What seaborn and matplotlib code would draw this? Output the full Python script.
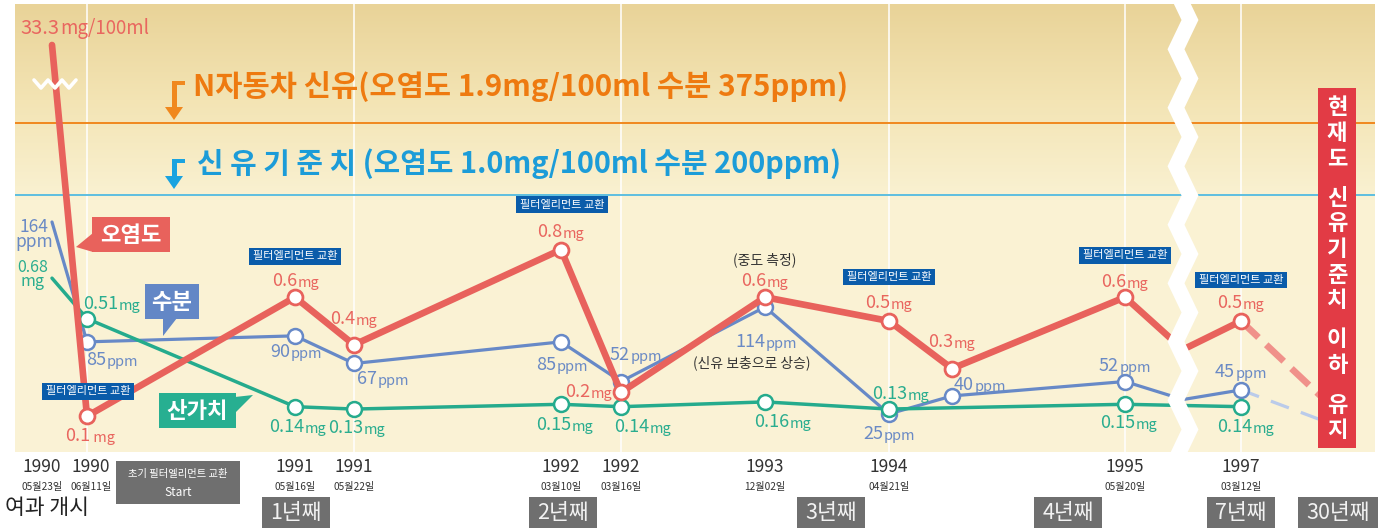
import numpy as np
import pandas as pd
import matplotlib
matplotlib.use("Agg")
import matplotlib.pyplot as plt
import matplotlib.transforms as mtrans
from matplotlib.patches import Rectangle, Polygon
import seaborn as sns

# ---------------- data ----------------
years = ["1990", "1990", "1991", "1991", "1992", "1992", "1993", "1994", "", "1995", "", "1997", ""]
days = ["05월23일", "06월11일", "05월16일", "05월22일", "03월10일", "03월16일", "12월02일", "04월21일", "",
        "05월20일", "", "03월12일", ""]
pollution = [33.3, 0.1, 0.6, 0.4, 0.8, 0.2, 0.6, 0.5, 0.3, 0.6, 0.38, 0.5, 0.12]      # 오염도 mg/100ml
water = [164, 85, 90, 67, 85, 52, 114, 25, 40, 52, 37, 45, 15]                          # 수분 ppm
acid = [0.68, 0.51, 0.14, 0.13, 0.15, 0.14, 0.16, 0.13, np.nan, 0.15, 0.145, 0.14, np.nan]  # 산가치 mg
marked = [0, 1, 1, 1, 1, 1, 1, 1, 1, 1, 0, 1, 0]
filter_change = [1, 2, 4, 7, 9, 11]
period_labels = ["1년째", "2년째", "3년째", "4년째", "7년째", "30년째"]
threshold_names = ["N자동차 신유", "신 유 기 준 치 "]
threshold_mg = [1.9, 1.0]
threshold_ppm = [375, 200]
side_note = "현재도 신유기준치 이하 유지"

# ---------------- layout ----------------
slot_x = [52, 87, 295, 354, 561, 621, 765, 889, 952, 1125, 1183, 1241, 1337]
period_x = [296, 563, 831, 1068, 1241, 1338]
grid_slots = [1, 3, 5, 7, 9, 11]

RED, RED_LIGHT = "#E8625C", "#F0918A"
BLUE, BLUE_LIGHT = "#6789C7", "#BACBEA"
GREEN = "#25AB8D"
RED_T, BLUE_T, GREEN_T = "#E9665F", "#6A8AC5", "#2AAD8F"
ORANGE_L, ORANGE_T = "#F0881E", "#EE7A10"
SKY_L, SKY_T = "#5DBEE0", "#1C9CD8"
NAVY, GRAY, BOXRED = "#0A5CAA", "#6F6F6F", "#E23B45"

sns.set_theme(style="white")
plt.rcParams["font.family"] = ["Noto Sans CJK KR", "DejaVu Sans"]

W, H = 1384, 528
fig = plt.figure(figsize=(W / 100, H / 100), dpi=100)
L, R, T, B = 15, 1375, 4, 452
rect = [L / W, 1 - B / H, (R - L) / W, (B - T) / H]
ax_bg = fig.add_axes(rect, zorder=0)
ax_p = fig.add_axes(rect, zorder=1)
ax_m = fig.add_axes(rect, zorder=2, sharex=ax_p)
ov = fig.add_axes([0, 0, 1, 1], zorder=5)
ov.set_xlim(0, W)
ov.set_ylim(H, 0)
for a in (ax_bg, ax_p, ax_m, ov):
    a.axis("off")
    a.patch.set_visible(False)

# background gradient
rows = np.arange(T, B)
stops = [T, 100, 200, B]
cols = np.array([[233, 211, 152], [243, 228, 180], [250, 242, 211], [250, 243, 214]]) / 255
grad = np.stack([np.interp(rows, stops, cols[:, i]) for i in range(3)], axis=-1)[:, None, :]
ax_bg.imshow(grad, aspect="auto", extent=(0, 1, 0, 1))
ax_bg.set_xlim(0, 1)
ax_bg.set_ylim(0, 1)


# broken (piecewise) value scales
def piecewise(vals, pix):
    vals = np.asarray(vals, float)
    pix = np.asarray(pix, float)
    fwd = lambda v: -np.interp(v, vals, pix)
    inv = lambda d: np.interp(-np.asarray(d, float), pix[::-1], vals[::-1])
    return fwd, inv


fm, im = piecewise([-1, 0, 0.8, 1.0, 1.9, 33.3, 1000], [678, 440, 249.6, 195, 123, 45, -300])
fp, ip = piecewise([-100, 0, 114, 164, 10000], [564, 444, 307, 222, -3000])
ax_m.set_yscale("function", functions=(fm, im))
ax_p.set_yscale("function", functions=(fp, ip))
ax_m.set_ylim(float(im(-B)), float(im(-T)))
ax_p.set_ylim(float(ip(-B)), float(ip(-T)))
ax_p.set_xlim(L, R)

for i in grid_slots:
    ax_p.axvline(slot_x[i], color="white", lw=1.1, zorder=0.5)
for v, c in zip(threshold_mg, [ORANGE_L, SKY_L]):
    ax_m.axhline(v, color=c, lw=1.4, zorder=1)

df = pd.DataFrame({"x": slot_x, "pollution": pollution, "water": water, "acid": acid, "marked": marked})
main, proj, mk = df.iloc[:-1], df.iloc[-2:], df[df.marked == 1]

# water (ppm)
sns.lineplot(data=main, x="x", y="water", ax=ax_p, color=BLUE, linewidth=2.3, sort=False,
             estimator=None, zorder=2, legend=False)
sns.lineplot(data=proj, x="x", y="water", ax=ax_p, color=BLUE_LIGHT, linewidth=2.3, sort=False,
             estimator=None, zorder=2, legend=False, linestyle=(0, (6, 4)))
sns.scatterplot(data=mk, x="x", y="water", ax=ax_p, s=115, color="white", edgecolor=BLUE,
                linewidth=1.8, zorder=3, legend=False)
# acid (mg)
gm = main.dropna(subset=["acid"])
sns.lineplot(data=gm, x="x", y="acid", ax=ax_m, color=GREEN, linewidth=2.5, sort=False,
             estimator=None, zorder=2, legend=False)
sns.scatterplot(data=mk.dropna(subset=["acid"]), x="x", y="acid", ax=ax_m, s=115, color="white",
                edgecolor=GREEN, linewidth=1.8, zorder=3, legend=False)
# pollution (mg/100ml)
sns.lineplot(data=main, x="x", y="pollution", ax=ax_m, color=RED, linewidth=4.8, sort=False,
             estimator=None, zorder=4, legend=False, solid_capstyle="round", solid_joinstyle="round")
sns.lineplot(data=proj, x="x", y="pollution", ax=ax_m, color=RED_LIGHT, linewidth=4.8, sort=False,
             estimator=None, zorder=4, legend=False, linestyle=(0, (3.6, 1.6)))
sns.scatterplot(data=mk, x="x", y="pollution", ax=ax_m, s=115, color="white", edgecolor=RED,
                linewidth=2.0, zorder=5, legend=False)
ax_p.set_xlim(L, R)
ax_p.axis("off")
ax_m.axis("off")

# ---------------- value labels ----------------
pairs = []


def vlabel(trans, x, y, num, unit, color, dx, dy, ns=13, us=10.5):
    t1 = ov.annotate(num, xy=(x, y), xycoords=trans, xytext=(dx, -dy), textcoords="offset pixels",
                     ha="left", va="baseline", color=color, fontsize=ns, zorder=6)
    t2 = ov.annotate(unit, xy=(1, 0), xycoords=t1, xytext=(0.5, 0), textcoords="offset pixels",
                     ha="left", va="bottom", color=color, fontsize=us, zorder=6)
    pairs.append((t1, t2, dx, dy))


red_off = {0: (33, -11), 1: (3, 25), 2: (1, -11), 3: (0, -21), 4: (0, -13), 5: (-32, 5), 6: (0, -11),
           7: (0, -13), 8: (0, -22), 9: (0, -10), 11: (0, -13)}
blue_off = {1: (25, 23), 2: (1, 21), 3: (29, 21), 4: (1, 28), 5: (15, -22), 6: (1, 40), 7: (0, 25),
            8: (28, -6), 9: (0, -11), 11: (0, -13)}
green_off = {1: (25, -10), 2: (3, 25), 3: (3, 24), 4: (4, 26), 5: (22, 25), 6: (18, 25), 7: (12, -10),
             9: (4, 24), 11: (5, 25)}

for i, (dx, dy) in red_off.items():
    unit, ns, us = "mg", 13, 10.5
    if i == 0:
        unit, ns, us = "mg/100ml", 14.5, 13.5
    elif i == 1:
        unit = " mg"
    vlabel(ax_m.transData, slot_x[i], pollution[i], f"{pollution[i]:g}", unit, RED_T, dx, dy, ns, us)
for i, (dx, dy) in blue_off.items():
    vlabel(ax_p.transData, slot_x[i], water[i], f"{water[i]:g}", "ppm", BLUE_T, dx, dy)
for i, (dx, dy) in green_off.items():
    vlabel(ax_m.transData, slot_x[i], acid[i], f"{acid[i]:g}", "mg", GREEN_T, dx, dy)

# stacked first labels (value over unit, one text each; baseline = last line)
for trans, val, txt, unit, col, d1, s1, ls in [
        (ax_p.transData, water[0], f"{water[0]:g}", "ppm", BLUE_T, (-18, 25), 12.5, 0.78),
        (ax_m.transData, acid[0], f"{acid[0]:g}", "mg", GREEN_T, (-19, 8), 11.5, 0.8)]:
    ov.annotate(f"{txt}\n{unit}", xy=(slot_x[0], val), xycoords=trans, xytext=(d1[0], -d1[1]),
                textcoords="offset pixels", ha="center", va="baseline", multialignment="center",
                linespacing=ls, color=col, fontsize=s1, zorder=6)

# filter element change tags
tag_off = {1: (1, -25), 2: (0, -41), 4: (1, -45), 7: (0, -44), 9: (0, -42), 11: (0, -41)}
for i in filter_change:
    dx, dy = tag_off[i]
    ov.annotate("필터엘리먼트 교환", xy=(slot_x[i], pollution[i]), xycoords=ax_m.transData,
                xytext=(dx, -dy), textcoords="offset pixels", ha="center", va="center",
                fontsize=8, color="white", zorder=7,
                bbox=dict(boxstyle="square,pad=0.3", fc=NAVY, ec="none"))

ov.annotate("(중도 측정)", xy=(slot_x[6], pollution[6]), xycoords=ax_m.transData, xytext=(0, 37),
            textcoords="offset pixels", ha="center", va="center", fontsize=10, color="#333333", zorder=6)
ov.annotate("(신유 보충으로 상승)", xy=(slot_x[6], water[6]), xycoords=ax_p.transData, xytext=(-13, -56),
            textcoords="offset pixels", ha="center", va="center", fontsize=10, color="#333333", zorder=6)

# ---------------- threshold titles & arrows ----------------
blend = mtrans.blended_transform_factory(ov.transData, ax_m.transData)
titles = [f"{threshold_names[0]}(오염도 {threshold_mg[0]:.1f}mg/100ml 수분 {threshold_ppm[0]}ppm)",
          f"{threshold_names[1]}(오염도 {threshold_mg[1]:.1f}mg/100ml 수분 {threshold_ppm[1]}ppm)"]
for txt, v, col, x0, up, fs in zip(titles, threshold_mg, [ORANGE_T, SKY_T], [193, 197], [36, 31], [21.3, 20.8]):
    ov.annotate(txt, xy=(x0, v), xycoords=blend, xytext=(0, up), textcoords="offset pixels",
                ha="left", va="center", fontsize=fs, fontweight="bold", color=col, zorder=6)


def arrow(ytop, ytip, col):
    hb = ytip - 13
    pts = [(172, ytop), (185, ytop), (185, ytop + 4), (177, ytop + 4), (177, hb), (183, hb),
           (174, ytip), (165, hb), (172, hb)]
    ov.add_patch(Polygon(pts, closed=True, fc=col, ec="none", zorder=6))


arrow(81, 120, ORANGE_L)
arrow(159, 189, "#1AA3E0")

# ---------------- series tags ----------------
tags = [("오염도", RED, (92, 217, 78, 35), [(93, 233), (93, 252), (76, 247)]),
        ("수분", "#6387C6", (145, 284, 54, 35), [(163, 318), (177, 318), (163, 336)]),
        ("산가치", "#27AF91", (159, 393, 77, 35), [(235, 397), (235, 413), (253, 395)])]
for txt, col, (x, y, w, h), tri in tags:
    ov.add_patch(Rectangle((x, y), w, h, fc=col, ec="none", zorder=7))
    ov.add_patch(Polygon(tri, closed=True, fc=col, ec="none", zorder=7))
    ov.text(x + w / 2, y + h / 2 + 1, txt, ha="center", va="center", fontsize=16, fontweight="bold",
            color="white", zorder=8)

# ---------------- breaks ----------------
zy = np.arange(-9.25, 480, 29.25)
zx = [1176 if k % 2 == 0 else 1190 for k in range(len(zy))]
ov.plot(zx, zy, color="white", lw=11, solid_joinstyle="miter", zorder=9)
ov.plot([34, 41, 48, 55, 62, 69, 76], [80, 88, 80, 88, 80, 88, 80], color="white", lw=2.6, zorder=9)

# right side note
ov.add_patch(Rectangle((1318, 88), 38, 360, fc=BOXRED, ec="none", zorder=10))
yy = 108
for ch in side_note:
    if ch == " ":
        yy += 14
        continue
    ov.text(1337, yy, ch, ha="center", va="center", fontsize=16, fontweight="bold", color="white", zorder=11)
    yy += 25.5

# ---------------- bottom axis labels ----------------
xb = mtrans.blended_transform_factory(ax_m.transData, ov.transData)
nudge = {0: -10, 1: 4}
for i, (yr, d) in enumerate(zip(years, days)):
    if not yr:
        continue
    x = slot_x[i] + nudge.get(i, 0)
    ov.annotate(yr, xy=(x, 467), xycoords=xb, ha="center", va="center", fontsize=12.5, color="#333333")
    ov.annotate(d, xy=(x, 487), xycoords=xb, ha="center", va="center", fontsize=7.3, color="#333333")

ov.add_patch(Rectangle((116, 461), 124, 43, fc=GRAY, ec="none", zorder=3))
ov.text(178, 474, "초기 필터엘리먼트 교환", ha="center", va="center", fontsize=7.4, color="white", zorder=4)
ov.text(178, 492, "Start", ha="center", va="center", fontsize=8.5, color="white", zorder=4)
ov.text(5, 508, "여과 개시", ha="left", va="center", fontsize=15.5, color="#222222")

for lab, px in zip(period_labels, period_x):
    w = 80 if len(lab) > 3 else 68
    ov.add_patch(Rectangle((px - w / 2, 497), w, 31, fc=GRAY, ec="none", zorder=3))
    ov.text(px, 513, lab, ha="center", va="center", fontsize=15.5, color="#F2F2F2", zorder=4)

# center the two-part value labels
fig.canvas.draw()
for t1, t2, dx, dy in pairs:
    w = t1.get_window_extent().width + t2.get_window_extent().width + 0.5
    t1.xyann = (dx - w / 2, -dy)

fig.savefig("out.png", dpi=100)
